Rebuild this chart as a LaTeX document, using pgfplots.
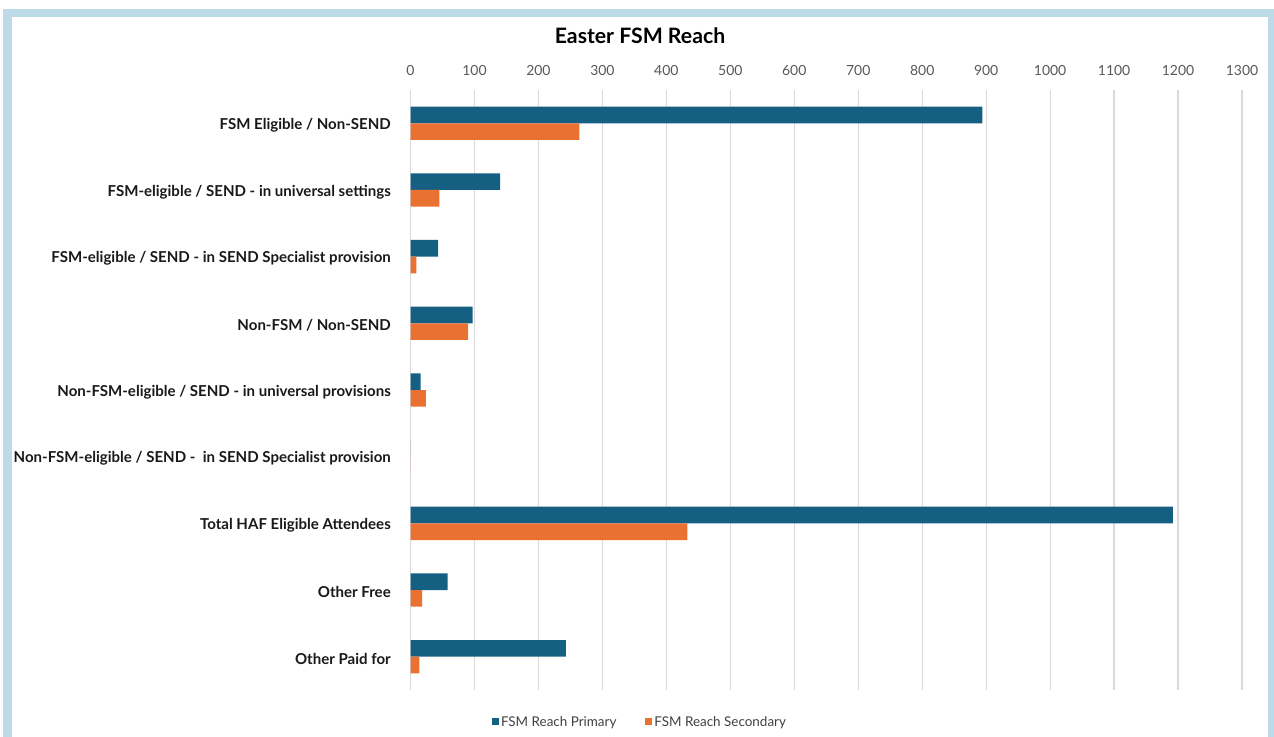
\documentclass[border=0pt]{standalone}
\usepackage{fontspec}
\setmainfont{Lato}
\usepackage{pgfplots}
\pgfplotsset{compat=1.18}
\definecolor{prim}{HTML}{156082}
\definecolor{sec}{HTML}{E97132}
\definecolor{framec}{HTML}{BDDAE8}
\definecolor{gridc}{HTML}{D9D9D9}
\definecolor{tickc}{HTML}{595959}
\definecolor{legc}{HTML}{404040}
\begin{document}
\begin{tikzpicture}[x=1bp,y=1bp]
\path[use as bounding box] (0,0) rectangle (1274,737);
\fill[framec] (3,0) rectangle (1274,728);
\fill[white] (12,0) rectangle (1267.5,720);
\node[font=\fontsize{21.3}{24}\selectfont\bfseries] at (640,701) {Easter FSM Reach};
\begin{axis}[
  at={(410.5bp,47bp)}, anchor=south west,
  scale only axis, width=831.5bp, height=600bp,
  xmin=0, xmax=1300, ymin=-0.5, ymax=8.5,
  y dir=reverse,
  xbar, bar width=0.25,
  xtick={0,100,...,1300},
  xticklabel pos=upper,
  ytick={0,...,8},
  yticklabels={FSM Eligible / Non-SEND,
    FSM-eligible / SEND - in universal settings,
    FSM-eligible / SEND - in SEND Specialist provision,
    Non-FSM / Non-SEND,
    Non-FSM-eligible / SEND - in universal provisions,
    Non-FSM-eligible / SEND -\ \ in SEND Specialist provision,
    Total HAF Eligible Attendees,
    Other Free,
    Other Paid for},
  axis line style={draw=none},
  major tick length=0,
  xmajorgrids,
  grid style={gridc, line width=1.2bp},
  /pgf/number format/assume math mode=true,
  /pgf/number format/set thousands separator={},
  xticklabel style={font=\fontsize{14}{16}\selectfont, text=tickc, anchor=center, inner sep=0pt, yshift=19bp},
  yticklabel style={font=\fontsize{15.1}{17}\selectfont\bfseries, text=black!90, anchor=east, inner sep=0pt, xshift=-19.5bp, yshift=-2bp},
  legend style={draw=none, fill=none, at={(0.276,-0.0533)}, anchor=center,
    legend columns=2, font=\fontsize{13.5}{15}\selectfont, text=legc,
    /tikz/every even column/.append style={column sep=27bp}},
  legend image code/.code={\fill (-3bp,-3.5bp) rectangle (4bp,3.5bp);},
]
\addplot[fill=prim, draw=none, bar shift=-0.125] coordinates {
  (894,0) (140,1) (43,2) (97,3) (16,4) (0,5) (1192,6) (58,7) (243,8)};
\addlegendentry{FSM Reach Primary}
\addplot[fill=sec, draw=none, bar shift=0.125] coordinates {
  (264,0) (45,1) (9,2) (90,3) (24,4) (0,5) (433,6) (18,7) (14,8)};
\addlegendentry{FSM Reach Secondary}
\end{axis}
\end{tikzpicture}
\end{document}
